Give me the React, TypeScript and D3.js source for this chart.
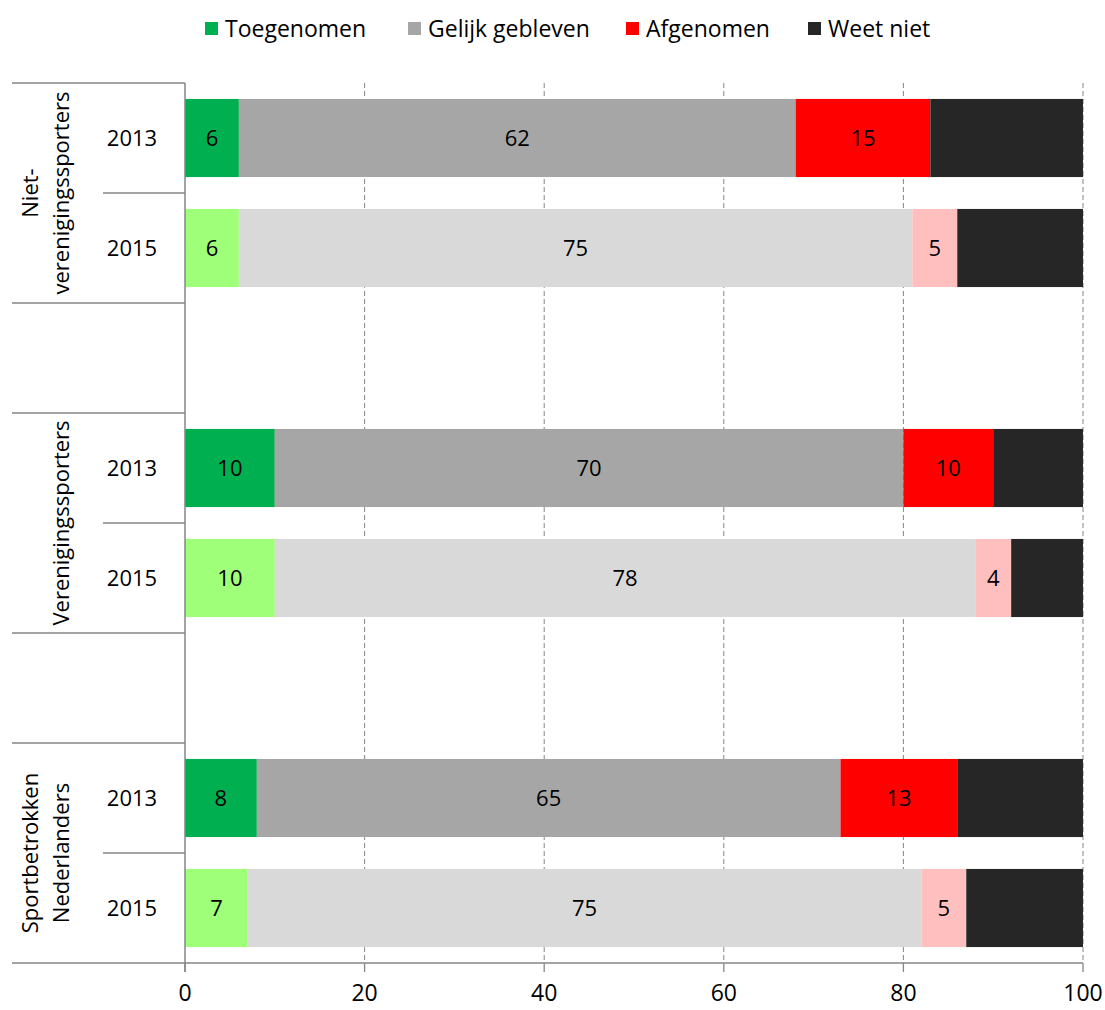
import React from "react";
import * as d3 from "d3";

const groupLabels: string[][] = [
  ["Niet-", "verenigingssporters"],
  ["Verenigingssporters"],
  ["Sportbetrokken", "Nederlanders"],
];
const years = ["2013", "2015"];
const toegenomen = [6, 6, 10, 10, 8, 7];
const gelijk = [62, 75, 70, 78, 65, 75];
const afgenomen = [15, 5, 10, 4, 13, 5];
const weetNiet = [17, 14, 10, 8, 14, 13];
const seriesNames = ["Toegenomen", "Gelijk gebleven", "Afgenomen", "Weet niet"];
const xTicks = [0, 20, 40, 60, 80, 100];

const colors2013 = ["#00B050", "#A6A6A6", "#FF0000", "#262626"];
const colors2015 = ["#A0FF78", "#D9D9D9", "#FFBFBF", "#262626"];
const showLabel = [true, true, true, false];

const FONT = "'Open Sans', sans-serif";

export default function App() {
  const W = 1105, H = 1010;
  const left = 185, right = 1083, top = 83, bottom = 963;
  const x = d3.scaleLinear().domain([0, 100]).range([left, right]);

  const slots: string[] = [];
  const rowSlot: string[] = [];
  groupLabels.forEach((g, gi) => {
    years.forEach((yr) => {
      const k = `g${gi}-${yr}`;
      slots.push(k);
      rowSlot.push(k);
    });
    if (gi < groupLabels.length - 1) slots.push(`blank${gi}`);
  });
  const y = d3
    .scaleBand<string>()
    .domain(slots)
    .range([top, bottom])
    .paddingInner(0.29)
    .paddingOuter(0.145);
  const step = y.step();

  const seriesData = [toegenomen, gelijk, afgenomen, weetNiet];
  const rows = rowSlot.map((k, i) => {
    const vals = seriesData.map((s) => s[i]);
    const stackVals: { x0: number; x1: number; v: number; si: number }[] = [];
    let acc = 0;
    vals.forEach((v, si) => {
      stackVals.push({ x0: acc, x1: acc + v, v, si });
      acc += v;
    });
    return { k, i, yearIdx: i % 2, segs: stackVals };
  });

  const sepLines: { yy: number; x1: number }[] = [];
  slots.forEach((s, si) => {
    const y0 = top + si * step;
    const isShort = s.endsWith("2015");
    sepLines.push({ yy: y0, x1: isShort ? 103 : 12 });
  });
  sepLines.push({ yy: bottom, x1: 12 });

  const legendX = [205, 408, 626, 808];
  const axisColor = "#868686";

  return (
    <svg
      width={W}
      height={H}
      style={{ position: "fixed", left: 0, top: 0, background: "#fff" }}
      fontFamily={FONT}
    >
      {seriesNames.map((n, i) => (
        <g key={n}>
          <rect x={legendX[i]} y={22} width={13} height={13} fill={colors2013[i]} />
          <text x={legendX[i] + 20} y={37} fontSize={23} fill="#000">
            {n}
          </text>
        </g>
      ))}

      {xTicks.slice(1).map((t) => (
        <line
          key={t}
          x1={x(t)}
          x2={x(t)}
          y1={top}
          y2={bottom}
          stroke="#868686"
          strokeDasharray="5,3"
          strokeWidth={1}
        />
      ))}

      {rows.map((r) =>
        r.segs.map((s) => (
          <rect
            key={r.k + s.si}
            x={x(s.x0)}
            y={y(r.k)}
            width={x(s.x1) - x(s.x0)}
            height={y.bandwidth()}
            fill={(r.yearIdx === 0 ? colors2013 : colors2015)[s.si]}
          />
        ))
      )}
      {rows.map((r) =>
        r.segs
          .filter((s) => showLabel[s.si])
          .map((s) => (
            <text
              key={"l" + r.k + s.si}
              x={x((s.x0 + s.x1) / 2)}
              y={(y(r.k) as number) + y.bandwidth() / 2}
              dy="0.36em"
              textAnchor="middle"
              fontSize={22}
              fill="#000"
            >
              {s.v}
            </text>
          ))
      )}

      {sepLines.map((l, i) => (
        <line key={i} x1={l.x1} x2={left} y1={l.yy} y2={l.yy} stroke={axisColor} strokeWidth={1.3} />
      ))}

      <line x1={left} x2={left} y1={top} y2={bottom + 9} stroke={axisColor} strokeWidth={1.5} />
      <line x1={left} x2={right} y1={bottom} y2={bottom} stroke={axisColor} strokeWidth={1.5} />
      {xTicks.map((t) => (
        <g key={"t" + t}>
          <line x1={x(t)} x2={x(t)} y1={bottom} y2={bottom + 9} stroke={axisColor} strokeWidth={1.3} />
          <text x={x(t)} y={1001} textAnchor="middle" fontSize={23} fill="#000">
            {t}
          </text>
        </g>
      ))}

      {rows.map((r) => (
        <text
          key={"y" + r.k}
          x={132}
          y={(y(r.k) as number) + y.bandwidth() / 2}
          dy="0.36em"
          textAnchor="middle"
          fontSize={22}
          fill="#000"
        >
          {years[r.yearIdx]}
        </text>
      ))}

      {groupLabels.map((lines, gi) => {
        const k0 = `g${gi}-${years[0]}`;
        const k1 = `g${gi}-${years[1]}`;
        const cy = ((y(k0) as number) - (step - y.bandwidth()) / 2 + (y(k1) as number) + y.bandwidth() + (step - y.bandwidth()) / 2) / 2;
        const baselines = lines.length === 2 ? [38, 69] : [69];
        return lines.map((ln, li) => (
          <text
            key={"gl" + gi + li}
            transform={`translate(${baselines[li]},${cy}) rotate(-90)`}
            textAnchor="middle"
            fontSize={22}
            fill="#000"
          >
            {ln}
          </text>
        ));
      })}
    </svg>
  );
}
